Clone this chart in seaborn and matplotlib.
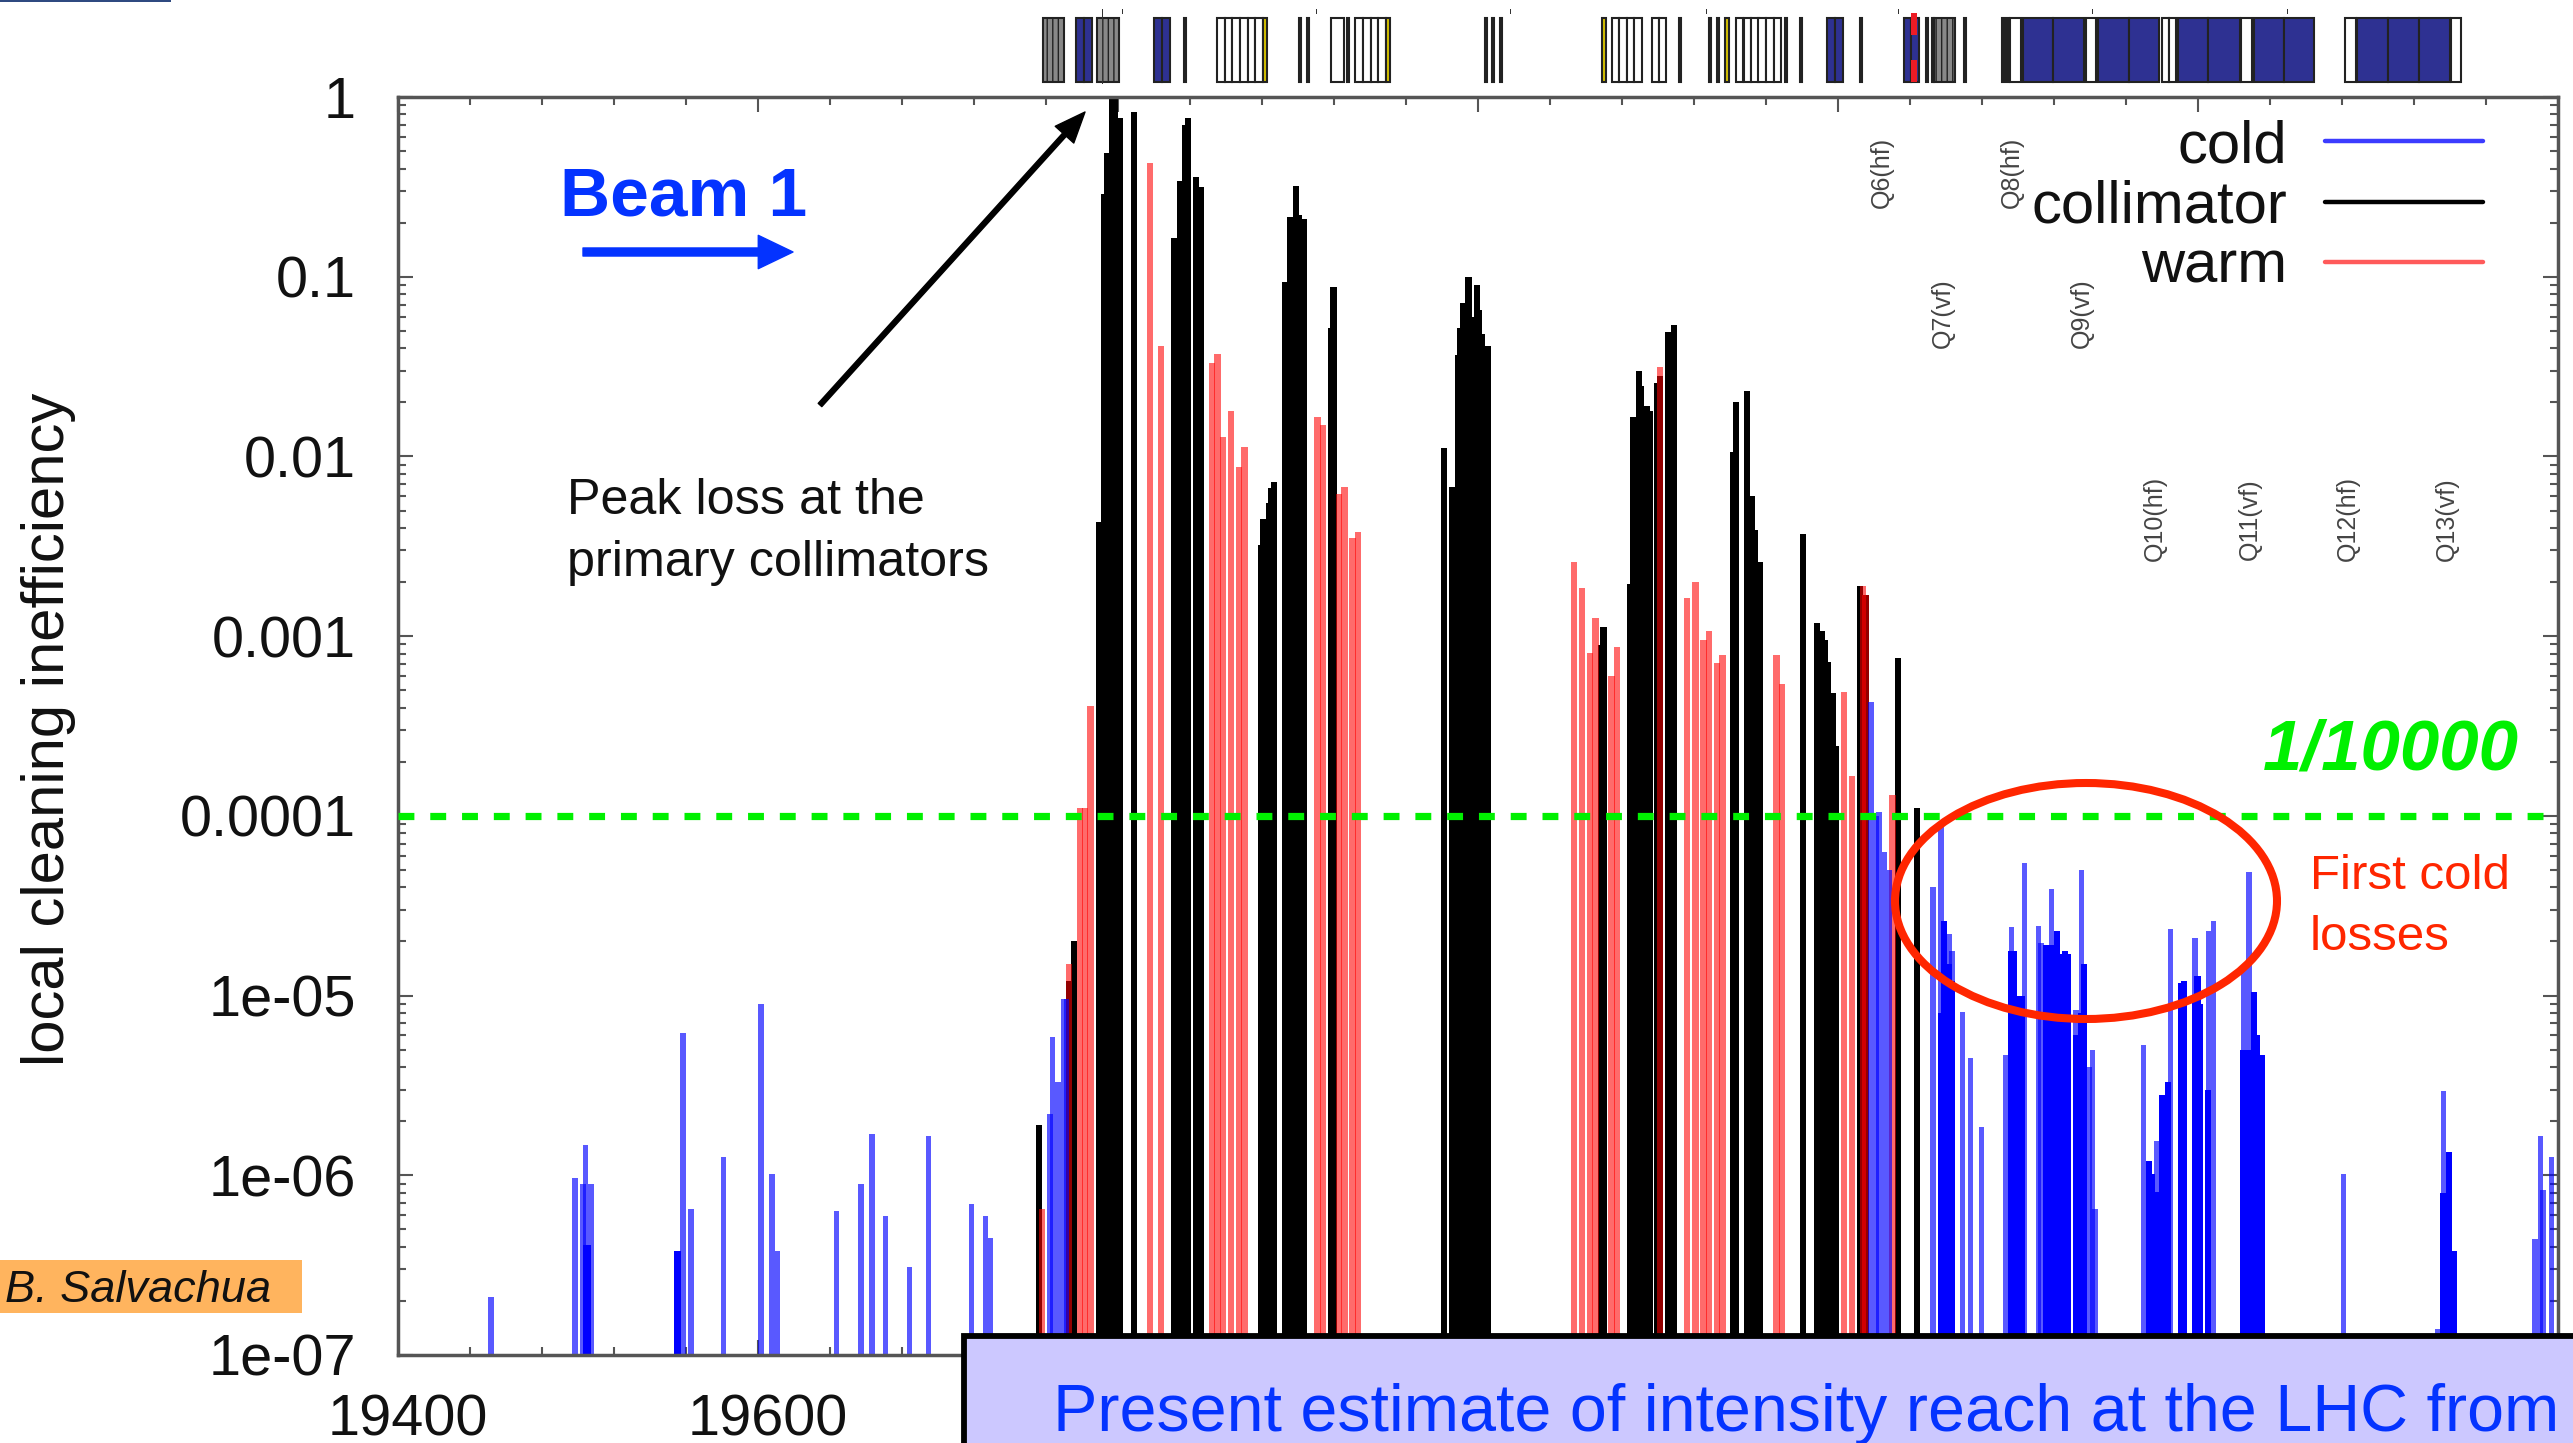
import matplotlib
matplotlib.use('Agg')
import matplotlib.pyplot as plt
import seaborn as sns
import numpy as np
from matplotlib.lines import Line2D
from matplotlib.patches import Ellipse, Rectangle
from matplotlib.ticker import FixedLocator, LogLocator, MultipleLocator, NullFormatter
from matplotlib.transforms import ScaledTranslation

# loss map, longitudinal position [m] and local cleaning inefficiency
cold_s = [19451.7, 19498.9, 19502.2, 19503.9, 19505.6, 19507.8, 19555.9, 19557.8, 19562.2, 19580,
          19602.2, 19607.8, 19611.1, 19643.9, 19656.7, 19663.9, 19671.1, 19684.4, 19695, 19718.3,
          19726.7, 19729.4, 19761.7, 19764.4, 19766.7, 19769.4, 19771.1,
          20218.9, 20220.6, 20222.8, 20226.1, 20228.3, 20252.8, 20257.2, 20259.4, 20261.7, 20263.9,
          20268.9, 20274.2, 20279.7, 20292.8, 20296.1, 20297.8, 20300, 20302.2, 20303.3,
          20311.1, 20313.3, 20316.1, 20318.9, 20321.1, 20323.9, 20326.1, 20328.3, 20332.2, 20335,
          20337.2, 20339.4, 20341.1, 20343.3, 20370, 20372.2, 20374.4, 20377.2, 20378.9, 20380.6,
          20383.3, 20385, 20390.6, 20392.8, 20397.8, 20399.4, 20401.7, 20405, 20409.4,
          20425.6, 20428.3, 20430.6, 20432.8, 20435.6, 20480, 20533.3, 20536.7, 20539.4, 20542.2,
          20587.2, 20590, 20592.2, 20595.6]
cold_loss = [2.1e-7, 9.6e-7, 8.9e-7, 1.47e-6, 4.1e-7, 8.9e-7, 3.8e-7, 6.2e-6, 6.5e-7, 1.27e-6,
             9e-6, 1.02e-6, 3.8e-7, 6.3e-7, 8.9e-7, 1.7e-6, 5.9e-7, 3.1e-7, 1.66e-6, 6.9e-7,
             5.9e-7, 4.5e-7, 2.2e-6, 5.9e-6, 3.3e-6, 9.6e-6, 9.6e-6,
             4.3e-4, 1e-4, 1.05e-4, 6.3e-5, 5e-5, 4e-5, 8.7e-5, 2.6e-5, 2.2e-5, 1.76e-5,
             8.1e-6, 4.5e-6, 1.85e-6, 4.7e-6, 2.4e-5, 1.78e-5, 1e-5, 1e-5, 5.5e-5,
             2.45e-5, 1.97e-5, 1.9e-5, 3.9e-5, 2.3e-5, 1.7e-5, 1.76e-5, 1.7e-5, 8.3e-6, 5e-5,
             1.5e-5, 4e-6, 5e-6, 6.5e-7, 5.3e-6, 1.2e-6, 1.02e-6, 1.55e-6, 8.1e-7, 2.8e-6,
             3.3e-6, 2.35e-5, 1.18e-5, 1.2e-5, 2.1e-5, 1.28e-5, 9e-6, 2.3e-5, 2.6e-5,
             1.45e-5, 4.9e-5, 1.05e-5, 6e-6, 4.7e-6, 1.02e-6, 1.4e-7, 2.95e-6, 1.35e-6, 3.8e-7,
             4.4e-7, 1.66e-6, 8.3e-7, 1.27e-6]

# where several cold entries pile up the blue gets fully saturated
cold_dense_s = [19503.9, 19505.6, 19555.9, 20257.2, 20259.4, 20261.7, 20263.9,
                20296.1, 20297.8, 20300, 20302.2, 20316.1, 20318.9, 20321.1, 20323.9, 20326.1,
                20328.3, 20332.2, 20335, 20337.2, 20372.2, 20374.4, 20377.2, 20378.9, 20380.6,
                20383.3, 20390.6, 20392.8, 20397.8, 20399.4, 20401.7, 20405,
                20425.6, 20428.3, 20430.6, 20432.8, 20435.6, 20536.7, 20539.4, 20542.2]
cold_dense_loss = [4.1e-7, 4.1e-7, 3.8e-7, 8e-6, 2.6e-5, 1.5e-5, 1.2e-5,
                   1.78e-5, 1.78e-5, 1e-5, 1e-5, 1.9e-5, 1.9e-5, 2.3e-5, 1.7e-5, 1.76e-5,
                   1.7e-5, 6e-6, 8e-6, 1.5e-5, 1.2e-6, 1.02e-6, 8.1e-7, 8.1e-7, 2.8e-6,
                   3.3e-6, 1.18e-5, 1.2e-5, 1e-5, 1.28e-5, 9e-6, 3e-6,
                   5e-6, 5e-6, 1.05e-5, 6e-6, 4.7e-6, 8e-7, 1.35e-6, 3.8e-7]

collimator_s = [19756.1, 19772.2, 19775, 19789.4, 19792.2, 19794.4, 19796.1, 19798.9, 19800.6, 19808.3,
                19831.7, 19833.9, 19836.7, 19838.9, 19843.9, 19846.7, 19878.9, 19881.1, 19883.3, 19885,
                19887.2, 19892.8, 19895.6, 19898.3, 19900.6, 19902.8, 19917.8, 19920,
                19981.7, 19985, 19988.3, 19990, 19992.2, 19994.4, 19996.7, 19998.9, 20001.1, 20002.8, 20005,
                20067.8, 20070, 20084.4, 20086.7, 20088.9, 20091.1, 20093.9, 20095.6, 20099.4, 20101.1,
                20105.6, 20107.8, 20109.4, 20141.7, 20143.9, 20148.9, 20152.2, 20154.4, 20157.2, 20180,
                20188.3, 20190.6, 20192.8, 20194.4, 20196.7, 20198.9, 20212.8, 20215.6, 20232.8, 20244.4]
collimator_loss = [1.9e-6, 1.2e-5, 2e-5, 4.3e-3, 0.29, 0.49, 1.0, 1.0, 0.76, 0.83,
                   0.164, 0.34, 0.70, 0.76, 0.36, 0.316, 3.2e-3, 4.5e-3, 5.5e-3, 6.7e-3,
                   7.2e-3, 0.093, 0.215, 0.32, 0.22, 0.21, 0.052, 0.088,
                   0.0112, 6.8e-3, 0.0367, 0.052, 0.0715, 0.1, 0.06, 0.09, 0.065, 0.048, 0.041,
                   8.9e-4, 1.12e-3, 1.94e-3, 0.0166, 0.03, 0.0245, 0.019, 0.018, 0.0257, 0.028,
                   0.049, 0.045, 0.054, 0.0106, 0.02, 0.023, 6e-3, 3.9e-3, 2.6e-3, 3.7e-3,
                   1.18e-3, 1.07e-3, 9.5e-4, 7.2e-4, 4.8e-4, 2.45e-4, 1.9e-3, 1.7e-3, 7.6e-4, 1.1e-4]

warm_s = [19757.8, 19772.8, 19779.4, 19781.7, 19784.4, 19818.3, 19823.3, 19851.7, 19855.6, 19858.9,
          19862.8, 19866.7, 19870.6, 19910, 19913.9, 19922.2, 19926.1, 19930, 19933.9,
          20053.9, 20057.8, 20061.7, 20065.6, 20074.4, 20077.8, 20101.1, 20116.7, 20121.1, 20125,
          20128.3, 20132.2, 20136.1, 20165, 20169.4, 20203.3, 20207.2, 20213.9, 20215.6, 20230]
warm_loss = [6.5e-7, 1.5e-5, 1.1e-4, 1.1e-4, 4.1e-4, 0.43, 0.041, 0.033, 0.037, 0.0129,
             0.0178, 8.7e-3, 0.0113, 0.0166, 0.015, 6.2e-3, 6.8e-3, 3.5e-3, 3.8e-3,
             2.6e-3, 1.86e-3, 8.1e-4, 1.26e-3, 6e-4, 8.7e-4, 0.0316, 1.62e-3, 2e-3, 9.5e-4,
             1.07e-3, 7.1e-4, 7.9e-4, 7.9e-4, 5.4e-4, 4.9e-4, 1.66e-4, 1.9e-3, 1.7e-3, 1.3e-4]

# machine layout strip above the plot
blue_start = [19776.7, 19781.1, 19820, 19824.4, 20193.9, 20198.3, 20236.7, 20240.8, 20302.8, 20319.4,
              20344.4, 20361.7, 20388.9, 20405.6, 20431.1, 20447.8, 20488.3, 20505.6, 20522.8]
blue_width = [4.4, 4.5, 4.4, 4.5, 4.4, 4.5, 4.1, 4.2, 16.6, 17.3,
              17.3, 16.6, 16.7, 17.7, 16.7, 16.6, 17.3, 17.2, 17.2]
white_start = [19855, 19859.3, 19863.5, 19867.8, 19872, 19876.3, 19918.3, 19931.7, 19936, 19940.3, 19944.6,
               20074.4, 20078.5, 20082.7, 20086.8, 20096.4, 20100.4, 20143.3, 20147.5, 20151.7, 20155.8,
               20160, 20164.2, 20295.6, 20337.8, 20380, 20383.9, 20423.9, 20481.7, 20540.6]
white_width = [4.3, 4.3, 4.3, 4.3, 4.3, 4.3, 7.3, 4.3, 4.3, 4.3, 4.3,
               4.15, 4.15, 4.15, 4.15, 4, 4, 4.17, 4.17, 4.17, 4.17,
               4.17, 4.17, 6.1, 5.5, 3.9, 3.9, 6.1, 6.1, 5.5]
yellow_start = [19880.6, 19948.9, 20068.9, 20137.2]
yellow_width = [2.2, 2.2, 2.2, 2.2]
dense_start = [19758.3, 19788.3, 20253.3]
dense_width = [11.7, 12.3, 11.7]
line_start = [19836.7, 19900.3, 19905, 19927.2, 20003.9, 20007.8, 20012.2, 20111.4, 20128.3, 20132.8,
              20170.6, 20178.9, 20212.2, 20248.9, 20252.2, 20270, 20291.1]
line_width = [1.2, 1.2, 1.2, 1.2, 1.2, 1.2, 1.2, 1.2, 1.2, 1.2,
              1.2, 1.2, 1.2, 1.2, 1.2, 1.2, 3.9]
red_start = [20240.8]
red_width = [3]
mark_start = [19802.2, 19910, 20017.8, 20126.7, 20233.3, 20341.1, 20449.4]

x_ticks = [19400, 19600, 19800, 20000, 20200, 20400, 20600]
x_labels = ['19400', '19600', '', '', '', '', '']
y_ticks = [1e-7, 1e-6, 1e-5, 1e-4, 1e-3, 1e-2, 1e-1, 1]
y_labels = ['1e-07', '1e-06', '1e-05', '0.0001', '0.001', '0.01', '0.1', '1']
quad_names = ['Q6(hf)', 'Q7(vf)', 'Q8(hf)', 'Q9(vf)', 'Q10(hf)', 'Q11(vf)', 'Q12(hf)', 'Q13(vf)']
limit = 1e-4

W, H = 2573, 1443
sns.set_theme(style='white')
plt.rcParams['font.family'] = ['Liberation Sans', 'DejaVu Sans']
plt.rcParams['text.color'] = 'black'


def fx(x):
    return x / W


def fy(y):
    return 1 - y / H


fig = plt.figure(figsize=(W / 100, H / 100), dpi=100, facecolor='white')
ax = fig.add_axes([fx(398), fy(1355), (2558 - 398) / W, (1355 - 97) / H])
ax.set_yscale('log')

# the bars, same fine bins for all, shrink > 1 makes neighbours overlap like in the original
layers = [(collimator_s, collimator_loss, 'black', 1.0, 2.3),
          (warm_s, warm_loss, '#ff0000', 0.58, 2.4),
          (cold_s, cold_loss, '#0000ff', 0.65, 2.0),
          (cold_dense_s, cold_dense_loss, '#0000ff', 1.0, 2.3)]
for s, loss, color, alpha, shrink in layers:
    sns.histplot(x=s, weights=loss, binwidth=1.5, binrange=(19400, 20600), color=color,
                 alpha=alpha, linewidth=0, shrink=shrink, legend=False, ax=ax)

ax.set_xlim(19400, 20600)
ax.set_ylim(1e-7, 1)
ax.plot([19400, 20600], [limit, limit], color='#00f000', lw=5.2, dashes=(2.2, 2.2),
        dash_capstyle='butt', zorder=5)

# axes
ax.xaxis.set_major_locator(FixedLocator(x_ticks))
ax.xaxis.set_minor_locator(MultipleLocator(40))
ax.yaxis.set_major_locator(FixedLocator(y_ticks))
ax.yaxis.set_minor_locator(LogLocator(base=10, subs=np.arange(2, 10), numticks=20))
ax.yaxis.set_minor_formatter(NullFormatter())
ax.set_xticklabels(x_labels)
ax.set_yticklabels(y_labels)
ax.tick_params(which='major', direction='in', top=True, right=True, left=True, bottom=True,
               length=10.5, width=1.5, color='#555555', labelsize=41.5, labelcolor='#111111')
ax.tick_params(which='minor', direction='in', top=True, right=True, left=True, bottom=True,
               length=5.5, width=1.5, color='#555555')
ax.tick_params(axis='y', which='major', pad=30.5)
ax.tick_params(axis='x', which='major', pad=28)
for lab in ax.get_xticklabels():
    lab.set_transform(lab.get_transform() + ScaledTranslation(0.10, 0, fig.dpi_scale_trans))
for side in ax.spines:
    ax.spines[side].set_color('#555555')
    ax.spines[side].set_linewidth(2.5)
ax.set_xlabel('')
ax.set_ylabel('local cleaning inefficiency', fontsize=43, color='#111111')
ax.yaxis.set_label_coords((76 - 398) / 2160, (1355 - 729) / 1258)

ax.legend(handles=[Line2D([], [], color='#3c3cff', lw=3.2),
                   Line2D([], [], color='black', lw=3.2),
                   Line2D([], [], color='#ff5a5a', lw=3.2)],
          labels=['cold', 'collimator', 'warm'], loc='upper right', bbox_to_anchor=(fx(2490), fy(112)),
          bbox_transform=fig.transFigure, markerfirst=False, frameon=False, fontsize=43,
          handlelength=2.65, handletextpad=0.62, labelspacing=0.09, borderpad=0.12, borderaxespad=0,
          labelcolor='#111111')

# quadrupole names
quad_x = [1147, 1184, 1226, 1269, 1313, 1371, 1431, 1491]
quad_y = [105, 191, 105, 191, 316, 316, 316, 316]
for name, x, y in zip(quad_names, quad_x, quad_y):
    fig.text(fx(x * W / 1568), fy(y * H / 879), name, rotation=90, ha='center', va='center',
             fontsize=18, color='#444444')

# layout strip, own axes sharing the s scale
strip = fig.add_axes([fx(398), fy(84), (2558 - 398) / W, 75 / H], sharex=ax)
strip.axis('off')
strip.set_ylim(0, 1)
edge = '#222222'
for start, width, color in [(white_start, white_width, 'white'), (blue_start, blue_width, '#2e3192'),
                            (yellow_start, yellow_width, '#d4c000'), (line_start, line_width, '#222222')]:
    strip.bar(start, 0.853, width=width, bottom=0.027, align='edge', color=color, edgecolor=edge, linewidth=1.5)
strip.bar(dense_start, 0.853, width=dense_width, bottom=0.027, align='edge', color='#888888',
          edgecolor=edge, linewidth=1.5, hatch='|||')
strip.bar(red_start, 0.293, width=red_width, bottom=0.653, align='edge', color='#ed1c24', linewidth=0)
strip.bar(red_start, 0.293, width=red_width, bottom=0.027, align='edge', color='#ed1c24', linewidth=0)
strip.bar(mark_start, 0.067, width=0.7, bottom=0.933, align='edge', color='#333333', linewidth=0)
strip.bar([19791.1], 1, width=0.7, bottom=0, align='edge', color='#333333', linewidth=0)

# slide overlays, placed in figure pixels
fig.add_artist(Rectangle((fx(0), fy(2)), fx(171), 2 / H, facecolor='#2f4a80', edgecolor='none'))
fig.text(fx(560), fy(216), 'Beam 1', fontsize=50, fontweight='bold', color='#0433ff', va='baseline')
ax.annotate('', xy=(fx(793), fy(252)), xytext=(fx(583), fy(252)), xycoords='figure fraction',
            textcoords='figure fraction',
            arrowprops=dict(width=5.8, headwidth=24, headlength=25, color='#0433ff', shrink=0))
ax.annotate('', xy=(fx(1085), fy(112)), xytext=(fx(820), fy(405)), xycoords='figure fraction',
            textcoords='figure fraction',
            arrowprops=dict(width=3.5, headwidth=18, headlength=22, color='black', shrink=0))
fig.text(fx(567), fy(514), 'Peak loss at the', fontsize=36.2, color='#111111', va='baseline')
fig.text(fx(567), fy(576), 'primary collimators', fontsize=36.2, color='#111111', va='baseline')
fig.text(fx(2263), fy(770), '1/10000', fontsize=51, fontweight='bold', fontstyle='italic',
         color='#00f000', va='baseline')
fig.add_artist(Ellipse((fx(2086), fy(901)), 382 / W, 236 / H, facecolor='none', edgecolor='#ff2600', linewidth=5.8))
fig.text(fx(2310), fy(889), 'First cold', fontsize=35.5, color='#ff2600', va='baseline')
fig.text(fx(2310), fy(950), 'losses', fontsize=35.5, color='#ff2600', va='baseline')
fig.add_artist(Rectangle((fx(0), fy(1313)), fx(302), 53 / H, facecolor='#ffb45e', edgecolor='none'))
fig.text(fx(5), fy(1291), 'B. Salvachua', fontsize=32.5, fontstyle='italic', color='#111111', va='center')
fig.add_artist(Rectangle((fx(964), fy(1460)), 1700 / W, 124 / H, facecolor='#ccc8ff', edgecolor='black', linewidth=4.2))
fig.text(fx(1053), fy(1431), 'Present estimate of intensity reach at the LHC from', fontsize=47.8,
         color='#0433ff', va='baseline')

fig.savefig('out.png', dpi=100)
